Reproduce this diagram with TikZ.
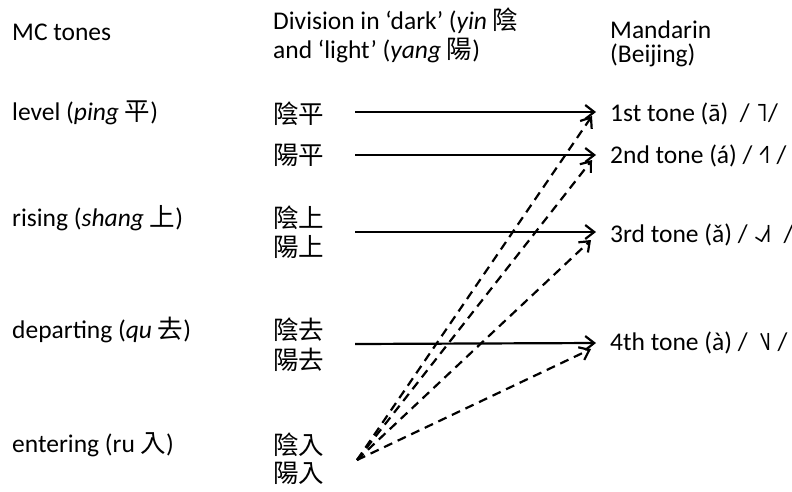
\documentclass[tikz,border=0pt]{standalone}
\usepackage{fontspec}
\setmainfont{Carlito}
\newfontfamily\cjk{Noto Sans CJK TC}
\newfontfamily\tonefont{DejaVu Sans}
\usetikzlibrary{arrows.meta}
\begin{document}
\begin{tikzpicture}[x=1pt,y=-1pt,
  lbl/.style={anchor=west,inner sep=0pt,font=\fontsize{25.5}{30}\selectfont},
  conn/.style={line width=2.2pt,-{Straight Barb[length=9pt,width=14pt,line width=2.2pt]}},
  dconn/.style={conn,dash pattern=on 9pt off 6pt}]
\useasboundingbox (0,0) rectangle (792,491);
% column 1
\node[lbl] (mc) at (12,32) {MC tones};
\node[lbl] (level) at (12,113) {level (\textit{ping} {\cjk 平})};
\node[lbl] (rising) at (12,218) {rising (\textit{shang} {\cjk 上})};
\node[lbl] (departing) at (12,330) {departing (\textit{qu} {\cjk 去})};
\node[lbl] (entering) at (12,445) {entering (ru {\cjk 入})};
% column 2
\node[lbl] (division) at (273,21) {Division in ‘dark’ (\textit{yin} {\cjk 陰}};
\node[lbl] (division2) at (273,50) {and ‘light’ (\textit{yang} {\cjk 陽})};
\node[lbl] (yinping) at (273,114) {\cjk 陰平};
\node[lbl] (yangping) at (273,155) {\cjk 陽平};
\node[lbl] (yinshang) at (273,218) {\cjk 陰上};
\node[lbl] (yangshang) at (273,247) {\cjk 陽上};
\node[lbl] (yinqu) at (273,330) {\cjk 陰去};
\node[lbl] (yangqu) at (273,360) {\cjk 陽去};
\node[lbl] (yinru) at (273,445) {\cjk 陰入};
\node[lbl] (yangru) at (273,473) {\cjk 陽入};
% column 3
\node[lbl] (mandarin) at (610,30) {Mandarin};
\node[lbl] (beijing) at (610,55) {(Beijing)};
\node[lbl] (t1) at (610,114) {1st tone (ā)\ \ / {\tonefont ˥}/};
\node[lbl] (t2) at (610,156) {2nd tone (á) / {\tonefont ˧˥} /};
\node[lbl] (t3) at (610,235) {3rd tone (ǎ) / {\tonefont ˨˩˦}\ \ /};
\node[lbl] (t4) at (610,343) {4th tone (à) /\ \ {\tonefont ˥˩} /};
% connector end points
\coordinate (s1) at (355,112);
\coordinate (s2) at (355,155);
\coordinate (s3) at (355,232);
\coordinate (s4) at (355,344);
\coordinate (ru) at (357,460);
\coordinate (e1) at (596,112);
\coordinate (e2) at (596,155);
\coordinate (e3) at (596,232);
\coordinate (e4) at (596,343);
\coordinate (d1) at (592,116);
\coordinate (d2) at (592,160);
\coordinate (d3) at (591,240);
\coordinate (d4) at (591,349);
% solid connectors
\draw[conn] (s1) -- (e1);
\draw[conn] (s2) -- (e2);
\draw[conn] (s3) -- (e3);
\draw[conn] (s4) -- (e4);
% dashed connectors
\draw[dconn] (ru) -- (d1);
\draw[dconn] (ru) -- (d2);
\draw[dconn] (ru) -- (d3);
\draw[dconn] (ru) -- (d4);
\end{tikzpicture}
\end{document}
